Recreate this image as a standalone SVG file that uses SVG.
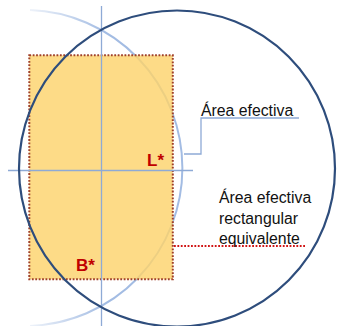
<svg xmlns="http://www.w3.org/2000/svg" width="337" height="326" viewBox="0 0 337 326">
  <style>
    .axis { stroke: #8eaad6; stroke-width: 1.3; fill: none; }
    .callout { stroke: #8eaad6; stroke-width: 1.3; fill: none; }
    .label { font-family: "Liberation Sans", Arial, sans-serif; font-size: 15.8px; fill: #111111; }
    .mark { font-family: "Liberation Sans", Arial, sans-serif; font-size: 17px; font-weight: bold; fill: #c00000; }
  </style>
  <defs>
    <linearGradient id="fade" gradientUnits="userSpaceOnUse" x1="22" y1="0" x2="105" y2="0">
      <stop offset="0" stop-color="#a3bce3" stop-opacity="0.1"/>
      <stop offset="1" stop-color="#a3bce3" stop-opacity="1"/>
    </linearGradient>
  </defs>
  <rect width="337" height="326" fill="#ffffff"/>

  <g id="light-circle">
    <path d="M30,10.1 A158,158 0 0 1 30,325.9" fill="none" stroke="url(#fade)" stroke-width="2"/>
  </g>

  <g id="equivalent-rect">
    <rect x="29.3" y="55.3" width="143.5" height="224" fill="#fcd36c" fill-opacity="0.82" stroke="#a0402a" stroke-width="2" stroke-dasharray="1.8 1.6"/>
  </g>

  <g id="axes">
    <line class="axis" x1="101.5" y1="6" x2="101.5" y2="326"/>
    <line class="axis" x1="8" y1="170.5" x2="193" y2="170.5"/>
  </g>

  <g id="effective-area-circle">
    <circle cx="177" cy="168.5" r="158" fill="none" stroke="#2e4d7c" stroke-width="2.2"/>
  </g>

  <g id="connectors">
    <polyline class="callout" points="299,118 201,118 201,154 184,154"/>
    <line x1="174" y1="246" x2="305" y2="246" stroke="#d01515" stroke-width="2" stroke-dasharray="1.8 1.6"/>
  </g>

  <g id="label-L">
    <text class="mark" x="147" y="165.5">L*</text>
  </g>
  <g id="label-B">
    <text class="mark" x="76" y="271">B*</text>
  </g>
  <g id="label-effective-area">
    <text class="label" x="201" y="116">Área efectiva</text>
  </g>
  <g id="label-equivalent">
    <text class="label" x="219" y="203">Área efectiva</text>
    <text class="label" x="219" y="223.5">rectangular</text>
    <text class="label" x="219" y="244">equivalente</text>
  </g>
</svg>
